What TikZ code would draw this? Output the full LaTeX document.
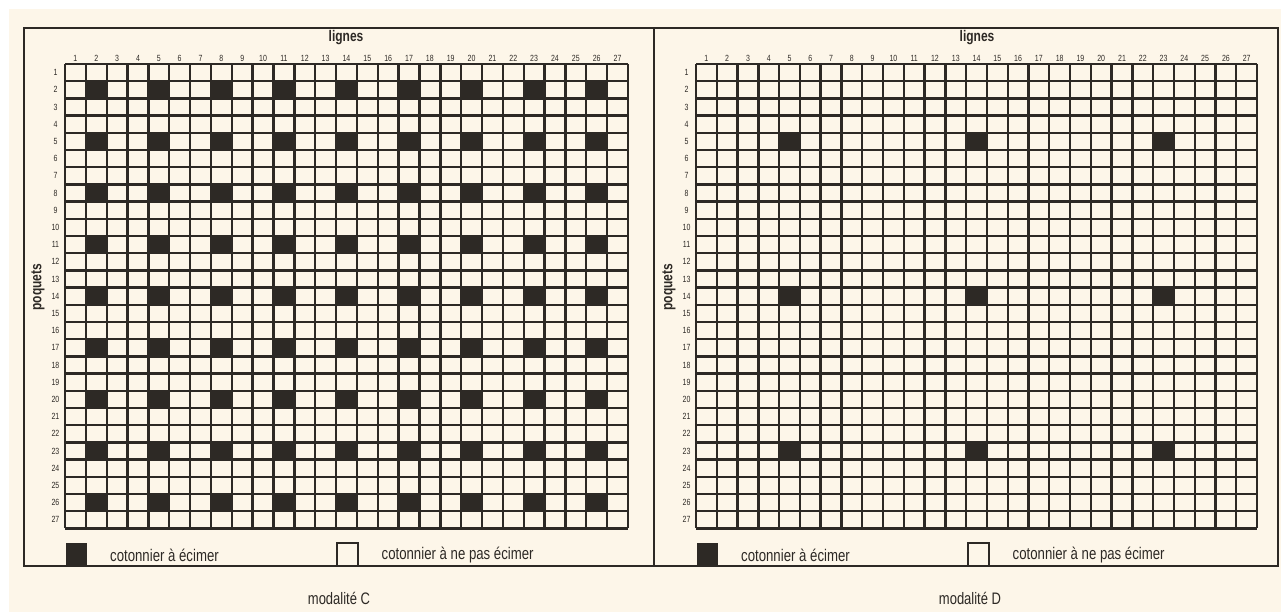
\documentclass[tikz,border=0pt]{standalone}
\usepackage{fontspec}
\setmainfont{Liberation Sans}
\usetikzlibrary{positioning}
\definecolor{paper}{HTML}{FDF6E9}
\definecolor{ink}{HTML}{2D2925}
\newcommand{\tallt}[1]{\scalebox{1}[1.28]{#1}}

\tikzset{
  gridline/.style={ink, line width=2.4pt},
  frameline/.style={ink, line width=1.8pt},
  numlabel/.style={font=\fontsize{7}{8}\selectfont, text=ink, inner sep=0pt},
  axislabel/.style={font=\fontsize{12}{14}\selectfont\bfseries, text=ink, inner sep=0pt},
  legendtext/.style={font=\fontsize{13.2}{15}\selectfont, text=ink, inner sep=0pt, anchor=west},
  captiontext/.style={font=\fontsize{13}{15}\selectfont, text=ink, inner sep=0pt},
  topped/.style={fill=ink},
}

\begin{document}
\begin{tikzpicture}[x=1pt,y=-1pt]
  \useasboundingbox (0,0) rectangle (1281,612);
  \fill[white] (0,0) rectangle (1281,612);
  \fill[paper] (9,9) rectangle (1281,612);

  % frame of both panels
  \draw[frameline] (24,28) rectangle (1278,566);
  \draw[frameline] (654,28) -- (654,566);

  % one panel per modality: origin, cell width, first and second topped row
  \foreach \ox/\cw/\name/\first/\second in {65/20.85/C/2/5, 696/20.78/D/5/14} {
    % cotonniers a ecimer
    \foreach \r in {\first,\second,...,26}
      \foreach \c in {\first,\second,...,26}
        \fill[topped] ({\ox+(\c-1)*\cw},{64+(\r-1)*17.2}) rectangle ++(\cw,17.2);
    % grid
    \foreach \i in {0,...,27} {
      \draw[gridline] ({\ox+\i*\cw},64) -- ({\ox+\i*\cw},{64+27*17.2});
      \draw[gridline] (\ox,{64+\i*17.2}) -- ({\ox+27*\cw},{64+\i*17.2});
    }
    % numbers
    \foreach \i in {1,...,27} {
      \node[numlabel] (col\name\i) at ({\ox+(\i-0.5)*\cw},58.5) {\tallt{\i}};
      \node[numlabel] (row\name\i) at ({\ox-9.5},{64+(\i-0.5)*17.2}) {\tallt{\i}};
    }
    \node[axislabel] (lignes\name) at ({\ox+281},38) {\tallt{lignes}};
    \node[axislabel, rotate=90] (poquets\name) at ({\ox-27},287) {\tallt{poquets}};
    % legend
    \fill[topped] ({\ox+1},543) rectangle ++(21,22);
    \draw[ink, line width=1.4pt] ({\ox+272},543) rectangle ++(21,22.5);
    \node[legendtext] (aecimer\name) at ({\ox+45},555.5) {\tallt{cotonnier à écimer}};
    \node[legendtext] (nepas\name) at ({\ox+316.5},555.5) {\tallt{cotonnier à ne pas écimer}};
    \node[captiontext] (modalite\name) at ({\ox+274},598) {\tallt{modalité \name}};
  }
\end{tikzpicture}
\end{document}
